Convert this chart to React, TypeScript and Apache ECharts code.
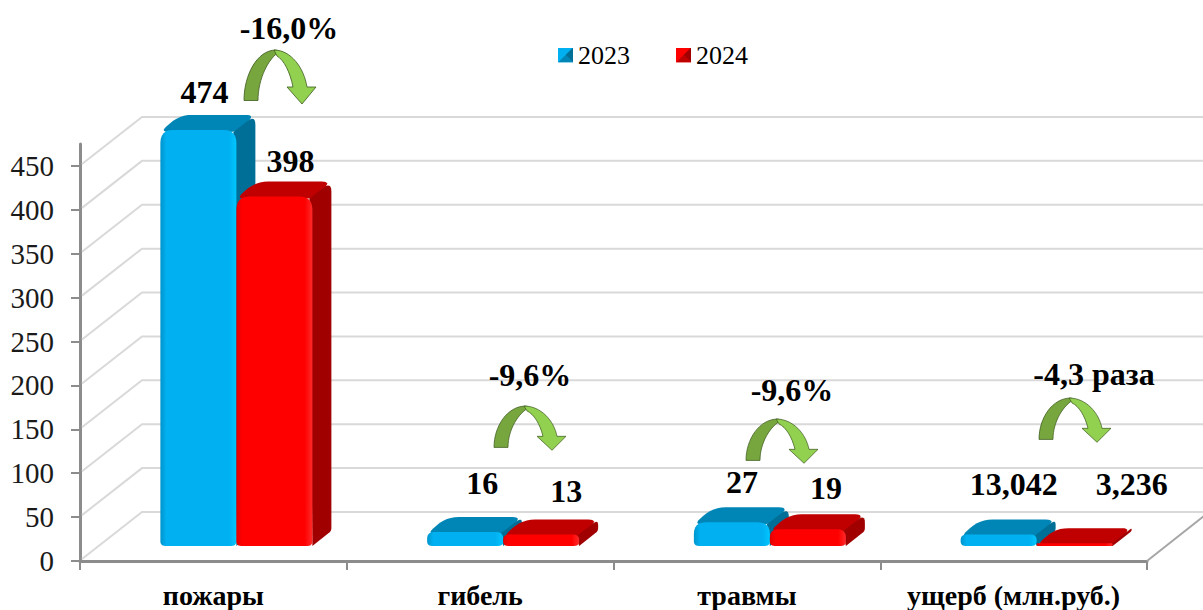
import React, { useEffect, useRef } from "react";
import * as echarts from "echarts";

const categories = ["пожары", "гибель", "травмы", "ущерб (млн.руб.)"];
const values2023 = [474, 16, 27, 13.042];
const values2024 = [398, 13, 19, 3.236];
const labels2023 = ["474", "16", "27", "13,042"];
const labels2024 = ["398", "13", "19", "3,236"];
const yTicks = [0, 50, 100, 150, 200, 250, 300, 350, 400, 450];
const changes = ["-16,0%", "-9,6%", "-9,6%", "-4,3 раза"];

const SERIF = '"Liberation Serif", "Times New Roman", serif';
const W = 1203, H = 610;
const GRID = { left: 80, top: 144, width: 1067, height: 417 };
const WALL = { dx: 62, dy: -49 };
const BAR = { lift: 15, shift: 23, width: 76, dx: 19, dy: -15 };

const nudge2023 = [[6, -38], [17, -49], [10, -40], [15, -51]];
const nudge2024 = [[16, -36], [25, -44], [18, -41], [57, -59]];
const arrowBoxes = [
  { x: 244, y: 50, sy: 1, tx: 289, ty: 28 },
  { x: 494, y: 406, sy: 0.82, tx: 530, ty: 375 },
  { x: 746, y: 419, sy: 0.82, tx: 792, ty: 390 },
  { x: 1039, y: 398, sy: 0.82, tx: 1094, ty: 374 },
];

const BLUE = { front: "#00B0F0", edge: "#0095CC", hi: "#00C6FF", top: "#0086B6", side: "#006F97" };
const RED = { front: "#FF0000", edge: "#E20000", hi: "#FF2A2A", top: "#C00000", side: "#A00000" };

echarts.graphic.registerShape(
  "arrowLeft",
  echarts.graphic.extendPath("M0,50.5 C0,25 13,0 32,0 L35,2 C25,8 14,28 14,50.5 Z", {})
);
echarts.graphic.registerShape(
  "arrowRight",
  echarts.graphic.extendPath("M30,0 C47,0 60,18 63,37 L72,37 L58,54 L43,37 L49,37 C46,22 40,10 33,6 Z", {})
);

type P = [number, number];
function roundPoly(pts: P[], radii: number[]): P[] {
  const out: P[] = [];
  const n = pts.length;
  pts.forEach((p, i) => {
    const a = pts[(i + n - 1) % n];
    const b = pts[(i + 1) % n];
    const la = Math.hypot(a[0] - p[0], a[1] - p[1]) || 1;
    const lb = Math.hypot(b[0] - p[0], b[1] - p[1]) || 1;
    const r = Math.min(radii[i], la / 2, lb / 2);
    const s: P = [p[0] + ((a[0] - p[0]) * r) / la, p[1] + ((a[1] - p[1]) * r) / la];
    const e: P = [p[0] + ((b[0] - p[0]) * r) / lb, p[1] + ((b[1] - p[1]) * r) / lb];
    for (let k = 0; k <= 6; k++) {
      const t = k / 6;
      const u = 1 - t;
      out.push([u * u * s[0] + 2 * u * t * p[0] + t * t * e[0], u * u * s[1] + 2 * u * t * p[1] + t * t * e[1]]);
    }
  });
  return out;
}

function legendIcon(c: typeof BLUE) {
  const svg =
    `<svg xmlns="http://www.w3.org/2000/svg" width="15" height="15">` +
    `<rect width="15" height="15" fill="${c.front}"/>` +
    `<polygon points="0,0 15,0 7.5,7.5" fill="${c.front}"/>` +
    `<polygon points="15,0 15,15 7.5,7.5" fill="${c.side}"/>` +
    `<polygon points="0,15 15,15 7.5,7.5" fill="${c.top}"/>` +
    `</svg>`;
  return "image://data:image/svg+xml;utf8," + encodeURIComponent(svg);
}

function barRenderer(c: typeof BLUE, side: -1 | 1, labels: string[], nudge: number[][]) {
  return (params: any, api: any) => {
    const idx = api.value(0);
    const val = api.value(1);
    const base = api.coord([idx, 0]);
    const tip = api.coord([idx, val]);
    const cx = base[0] + BAR.shift + (side * BAR.width) / 2;
    const x0 = cx - BAR.width / 2;
    const x1 = cx + BAR.width / 2;
    const yb = base[1] - BAR.lift;
    const yt = tip[1] - BAR.lift;
    const h = yb - yt;
    const r = Math.min(13, Math.max(h / 2, 4));
    const top = roundPoly(
      [[x0, yt + 2], [x1, yt + 2], [x1 + BAR.dx, yt + BAR.dy], [x0 + BAR.dx, yt + BAR.dy]],
      [8, 6, 10, 14]
    );
    const sidePts = roundPoly(
      [[x1 - 3, yt + 2], [x1 + BAR.dx, yt + BAR.dy], [x1 + BAR.dx, yb + BAR.dy], [x1, yb]],
      [0, 10, 3, 0]
    );
    const front = roundPoly(
      [[x0, yb], [x0, yt], [x1, yt], [x1, yb]],
      [Math.min(5, h / 2), r, r, Math.min(5, h / 2)]
    );
    const grad = new echarts.graphic.LinearGradient(0, 0, 1, 0, [
      { offset: 0, color: c.edge },
      { offset: 0.08, color: c.front },
      { offset: 0.9, color: c.front },
      { offset: 1, color: c.hi },
    ]);
    const n = nudge[idx];
    return {
      type: "group",
      children: [
        { type: "polygon", shape: { points: top }, style: { fill: c.top } },
        { type: "polygon", shape: { points: sidePts }, style: { fill: c.side } },
        { type: "polygon", shape: { points: front }, style: { fill: grad } },
        {
          type: "text",
          x: cx + n[0],
          y: yt + n[1],
          z2: 50,
          style: {
            text: labels[idx],
            font: `bold 32px ${SERIF}`,
            fill: "#000",
            align: "center",
            verticalAlign: "middle",
          },
        },
      ],
    };
  };
}

function wallRenderer(params: any, api: any) {
  const v = api.value(0);
  const x0 = params.coordSys.x;
  const x1 = x0 + params.coordSys.width;
  const y = api.coord([0, v])[1];
  const children: any[] = [
    {
      type: "polyline",
      shape: { points: [[x0 + 2, y - 2], [x0 + WALL.dx, y + WALL.dy], [x1 + WALL.dx, y + WALL.dy]] },
      style: { stroke: "#D9D9D9", lineWidth: 2, fill: "none" },
    },
  ];
  if (v === 0) {
    children.push({
      type: "line",
      shape: { x1, y1: y, x2: x1 + WALL.dx, y2: y + WALL.dy },
      style: { stroke: "#A6A6A6", lineWidth: 2 },
    });
  }
  return { type: "group", children };
}

export default function App() {
  const ref = useRef<HTMLDivElement>(null);
  useEffect(() => {
    const chart = echarts.init(ref.current!, undefined, { renderer: "svg", width: W, height: H });
    const axisGray = "#8C8C8C";
    chart.setOption({
      animation: false,
      backgroundColor: "#fff",
      grid: GRID,
      legend: {
        left: 553,
        top: 37,
        itemWidth: 15,
        itemHeight: 15,
        itemGap: 46,
        textStyle: { fontFamily: SERIF, fontSize: 26, color: "#000", padding: [0, 0, 0, 0] },
        data: [
          { name: "2023", icon: legendIcon(BLUE) },
          { name: "2024", icon: legendIcon(RED) },
        ],
      },
      xAxis: {
        type: "category",
        data: categories,
        axisLine: { lineStyle: { color: axisGray, width: 3 } },
        axisTick: { show: true, interval: 0, alignWithLabel: false, length: 9, lineStyle: { color: axisGray, width: 2 } },
        axisLabel: { interval: 0, fontFamily: SERIF, fontSize: 28, fontWeight: "bold", color: "#000", margin: 20 },
        splitLine: { show: false },
      },
      yAxis: {
        type: "value",
        min: 0,
        max: 475,
        interval: 25,
        axisLine: { show: true, lineStyle: { color: axisGray, width: 3 } },
        axisTick: { show: true, length: 9, customValues: yTicks, lineStyle: { color: axisGray, width: 2 } },
        axisLabel: { fontFamily: SERIF, fontSize: 29, color: "#1a1a1a", margin: 26, customValues: yTicks },
        splitLine: { show: false },
      },
      series: [
        {
          type: "custom",
          name: "walls",
          silent: true,
          z: 1,
          encode: { y: 0 },
          data: yTicks.map((v) => [v]),
          renderItem: wallRenderer,
        },
        {
          type: "custom",
          name: "2023",
          z: 3,
          itemStyle: { color: BLUE.front },
          encode: { x: 0, y: 1 },
          data: values2023.map((v, i) => [i, v]),
          renderItem: barRenderer(BLUE, -1, labels2023, nudge2023),
        },
        {
          type: "custom",
          name: "2024",
          z: 4,
          itemStyle: { color: RED.front },
          encode: { x: 0, y: 1 },
          data: values2024.map((v, i) => [i, v]),
          renderItem: barRenderer(RED, 1, labels2024, nudge2024),
        },
      ],
      graphic: {
        elements: arrowBoxes.flatMap((b, i) => [
          {
            type: "arrowLeft",
            x: b.x,
            y: b.y,
            scaleY: b.sy,
            z: 20,
            style: { fill: "#77A63F", stroke: "#3C5A1E", lineWidth: 0.8 },
          },
          {
            type: "arrowRight",
            x: b.x,
            y: b.y,
            scaleY: b.sy,
            z: 20,
            style: { fill: "#92D050", stroke: "#3C5A1E", lineWidth: 0.8 },
          },
          {
            type: "text",
            x: b.tx,
            y: b.ty,
            z: 21,
            style: {
              text: changes[i],
              font: `bold 32px ${SERIF}`,
              fill: "#000",
              align: "center",
              verticalAlign: "middle",
            },
          },
        ]),
      },
    });
    return () => chart.dispose();
  }, []);
  return (
    <div
      ref={ref}
      style={{ position: "absolute", left: 0, top: 0, width: W, height: H, background: "#fff" }}
    />
  );
}
